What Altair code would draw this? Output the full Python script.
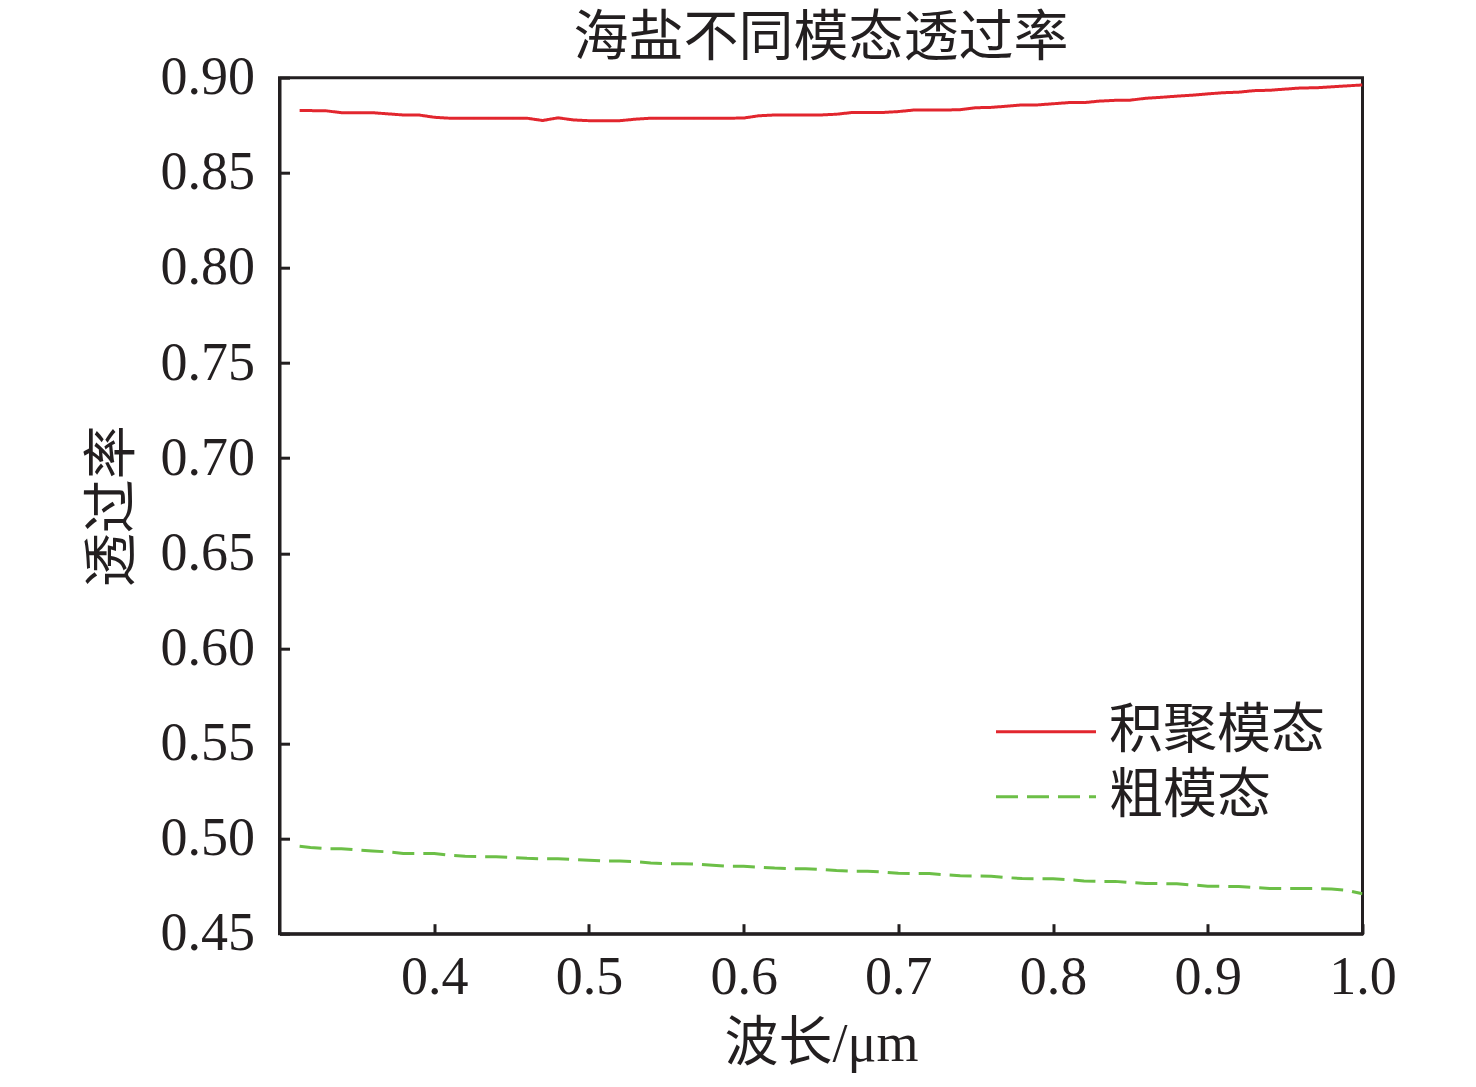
import altair as alt
import pandas as pd

FONT = "Liberation Serif, Noto Sans CJK SC"
INK = "#231f20"

series_names = ["积聚模态", "粗模态"]
series_colors = ["#e2262e", "#6cbf47"]
series_dashes = [[1, 0], [22, 9]]

wavelength = [0.313, 0.32, 0.33, 0.34, 0.35, 0.36, 0.37, 0.38, 0.39, 0.40,
              0.41, 0.42, 0.43, 0.44, 0.45, 0.46, 0.47, 0.48, 0.49, 0.50,
              0.51, 0.52, 0.53, 0.54, 0.55, 0.56, 0.57, 0.58, 0.59, 0.60,
              0.61, 0.62, 0.63, 0.64, 0.65, 0.66, 0.67, 0.68, 0.69, 0.70,
              0.71, 0.72, 0.73, 0.74, 0.75, 0.76, 0.77, 0.78, 0.79, 0.80,
              0.81, 0.82, 0.83, 0.84, 0.85, 0.86, 0.87, 0.88, 0.89, 0.90,
              0.91, 0.92, 0.93, 0.94, 0.95, 0.96, 0.97, 0.98, 0.99, 1.00]

accumulation = [0.8827, 0.8827, 0.8826, 0.8816, 0.8816, 0.8816, 0.8810, 0.8804, 0.8804, 0.8792,
                0.8787, 0.8787, 0.8787, 0.8787, 0.8787, 0.8787, 0.8775, 0.8789, 0.8778, 0.8774,
                0.8774, 0.8774, 0.8782, 0.8787, 0.8787, 0.8787, 0.8787, 0.8787, 0.8787, 0.8788,
                0.8800, 0.8804, 0.8804, 0.8804, 0.8804, 0.8808, 0.8817, 0.8817, 0.8817, 0.8822,
                0.8830, 0.8830, 0.8830, 0.8832, 0.8842, 0.8844, 0.8850, 0.8857, 0.8857, 0.8863,
                0.8869, 0.8869, 0.8877, 0.8881, 0.8882, 0.8892, 0.8897, 0.8903, 0.8908, 0.8915,
                0.8921, 0.8924, 0.8932, 0.8934, 0.8940, 0.8946, 0.8947, 0.8952, 0.8957, 0.8962]

coarse = [0.4960, 0.4953, 0.4947, 0.4947, 0.4940, 0.4935, 0.4930, 0.4922, 0.4921, 0.4921,
          0.4912, 0.4907, 0.4905, 0.4905, 0.4900, 0.4896, 0.4894, 0.4894, 0.4890, 0.4886,
          0.4882, 0.4882, 0.4879, 0.4872, 0.4868, 0.4868, 0.4866, 0.4860, 0.4854, 0.4854,
          0.4850, 0.4845, 0.4842, 0.4842, 0.4838, 0.4832, 0.4828, 0.4828, 0.4824, 0.4818,
          0.4816, 0.4816, 0.4810, 0.4805, 0.4803, 0.4802, 0.4795, 0.4790, 0.4789, 0.4789,
          0.4784, 0.4777, 0.4775, 0.4775, 0.4769, 0.4764, 0.4763, 0.4762, 0.4756, 0.4750,
          0.4749, 0.4748, 0.4743, 0.4738, 0.4737, 0.4737, 0.4737, 0.4735, 0.4728, 0.4710]

x_ticks = [0.4, 0.5, 0.6, 0.7, 0.8, 0.9, 1.0]
y_ticks = [0.45, 0.50, 0.55, 0.60, 0.65, 0.70, 0.75, 0.80, 0.85, 0.90]

rows = []
for w, v in zip(wavelength, accumulation):
    rows.append({"wavelength": w, "value": v, "series": series_names[0]})
for w, v in zip(wavelength, coarse):
    rows.append({"wavelength": w, "value": v, "series": series_names[1]})
df = pd.DataFrame(rows)

legend = alt.Legend(
    orient="none", legendX=739.5, legendY=627, title=None,
    symbolType="M-5,0H5", symbolSize=400, symbolStrokeWidth=3,
    labelFontSize=54, labelFont=FONT, labelColor=INK, labelOffset=36,
    rowPadding=11, padding=0, labelLimit=400,
)

chart = alt.Chart(df).mark_line(strokeWidth=3, clip=True).encode(
    x=alt.X("wavelength:Q",
            scale=alt.Scale(domain=[0.3, 1.0], nice=False, zero=False),
            axis=alt.Axis(values=x_ticks, format=".1f", labelFontSize=54, labelFont=FONT,
                          labelColor=INK, labelPadding=27, labelFlush=False,
                          tickSize=alt.ExprRef("-10"), tickWidth=3, tickColor=INK,
                          domainColor=INK, domainWidth=3, grid=False,
                          title="波长/μm", titleFontSize=54, titleFont=FONT,
                          titleFontWeight="normal", titleColor=INK,
                          titleY=111, titleBaseline="middle")),
    y=alt.Y("value:Q",
            scale=alt.Scale(domain=[0.45, 0.90], nice=False, zero=False),
            axis=alt.Axis(values=y_ticks, format=".2f", labelFontSize=54, labelFont=FONT,
                          labelColor=INK, labelPadding=35, labelFlush=False,
                          tickSize=alt.ExprRef("-10"), tickWidth=3, tickColor=INK,
                          domainColor=INK, domainWidth=3, grid=False,
                          title="透过率", titleFontSize=54, titleFont=FONT,
                          titleFontWeight="normal", titleColor=INK,
                          titleX=-166, titleBaseline="middle")),
    color=alt.Color("series:N", scale=alt.Scale(domain=series_names, range=series_colors),
                    legend=legend),
    strokeDash=alt.StrokeDash("series:N",
                              scale=alt.Scale(domain=series_names, range=series_dashes),
                              legend=legend),
).properties(
    width=1083, height=856,
    title=alt.Title("海盐不同模态透过率", fontSize=55, font=FONT, fontWeight="normal",
                    color=INK, anchor="middle", offset=19, baseline="middle", dy=61),
    autosize=alt.AutoSizeParams(type="none"),
    padding={"left": 271.5, "top": 69.7, "right": 100, "bottom": 140},
).configure_view(stroke=INK, strokeWidth=3)

chart.save("out.html", embed_options={"renderer": "svg", "actions": False})
